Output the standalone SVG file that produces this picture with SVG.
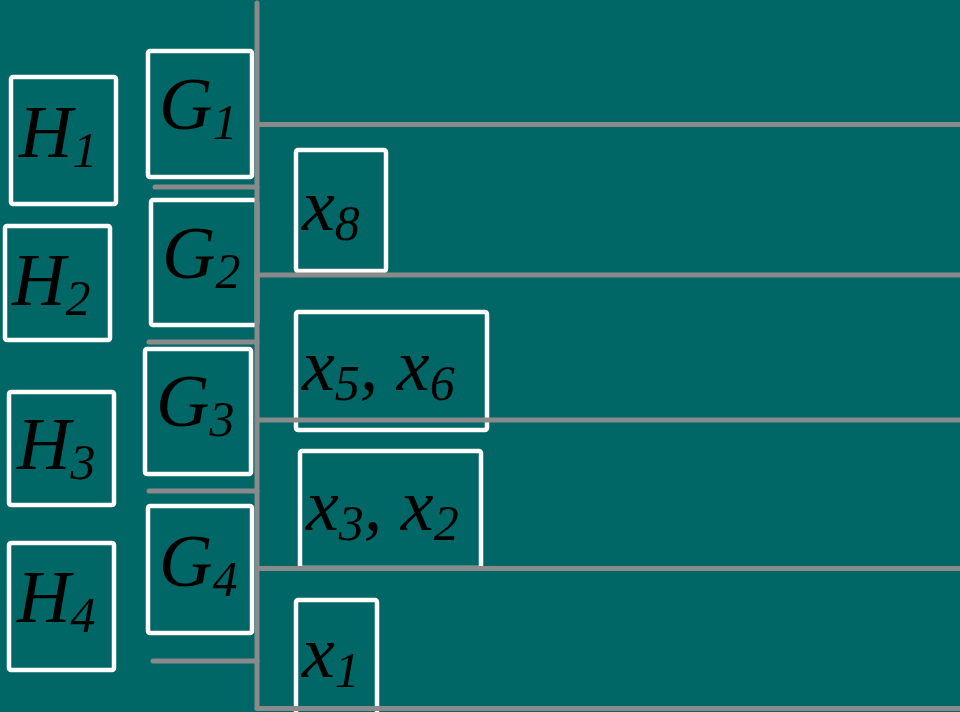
<svg xmlns="http://www.w3.org/2000/svg" width="960" height="712" viewBox="0 0 960 712">
<style>
.box{fill:none;stroke:#ffffff;stroke-width:4.5}
.t{font-family:"Liberation Serif","Times New Roman",serif;font-style:italic;font-size:74px;fill:#000000}
.s{font-size:50px}
.ln{stroke:#8a8a8a;stroke-width:5;fill:none;stroke-linecap:round}
</style>
<rect x="0" y="0" width="960" height="712" fill="#006666"/>
<g id="H1"><rect class="box" x="11" y="77" width="105" height="127" rx="2"/><text class="t" x="19" y="157">H<tspan class="s" dy="10">1</tspan></text></g>
<g id="H2"><rect class="box" x="5" y="226" width="105" height="114" rx="2"/><text class="t" x="12" y="305">H<tspan class="s" dy="10">2</tspan></text></g>
<g id="H3"><rect class="box" x="9" y="392" width="105" height="113" rx="2"/><text class="t" x="17" y="469">H<tspan class="s" dy="10">3</tspan></text></g>
<g id="H4"><rect class="box" x="9" y="543" width="105" height="127" rx="2"/><text class="t" x="17" y="622">H<tspan class="s" dy="10">4</tspan></text></g>
<g id="G1"><rect class="box" x="148" y="51" width="104" height="126" rx="2"/><text class="t" x="159" y="129">G<tspan class="s" dy="10">1</tspan></text></g>
<g id="G2"><rect class="box" x="151" y="200" width="106" height="125" rx="2"/><text class="t" x="162" y="278">G<tspan class="s" dy="10">2</tspan></text></g>
<g id="G3"><rect class="box" x="145" y="349" width="106" height="125" rx="2"/><text class="t" x="156" y="426">G<tspan class="s" dy="10">3</tspan></text></g>
<g id="G4"><rect class="box" x="148" y="506" width="104" height="127" rx="2"/><text class="t" x="159" y="586">G<tspan class="s" dy="10">4</tspan></text></g>
<g id="X8"><rect class="box" x="296" y="150" width="90" height="121" rx="2"/><text class="t" x="302" y="230">x<tspan class="s" dy="10">8</tspan></text></g>
<g id="X56"><rect class="box" x="296" y="312" width="191" height="118" rx="2"/><text class="t" x="302" y="390">x<tspan class="s" dy="10">5</tspan><tspan dy="-10">, x</tspan><tspan class="s" dy="10">6</tspan></text></g>
<g id="X32"><rect class="box" x="300" y="451" width="181" height="117" rx="2"/><text class="t" x="306" y="530">x<tspan class="s" dy="10">3</tspan><tspan dy="-10">, x</tspan><tspan class="s" dy="10">2</tspan></text></g>
<g id="X1"><rect class="box" x="296" y="600" width="81" height="120" rx="2"/><text class="t" x="302" y="677">x<tspan class="s" dy="10">1</tspan></text></g>
<g id="connectors">
<line class="ln" x1="257" y1="3" x2="257" y2="708"/>
<line class="ln" x1="257" y1="124.5" x2="962" y2="124.5"/>
<line class="ln" x1="257" y1="275" x2="962" y2="275"/>
<line class="ln" x1="257" y1="420" x2="962" y2="420"/>
<line class="ln" x1="257" y1="568.5" x2="962" y2="568.5"/>
<line class="ln" x1="257" y1="708.5" x2="962" y2="708.5"/>
<line class="ln" x1="155" y1="187" x2="257" y2="187"/>
<line class="ln" x1="149" y1="342" x2="257" y2="342"/>
<line class="ln" x1="149" y1="491" x2="257" y2="491"/>
<line class="ln" x1="153" y1="661" x2="257" y2="661"/>
</g>
</svg>
